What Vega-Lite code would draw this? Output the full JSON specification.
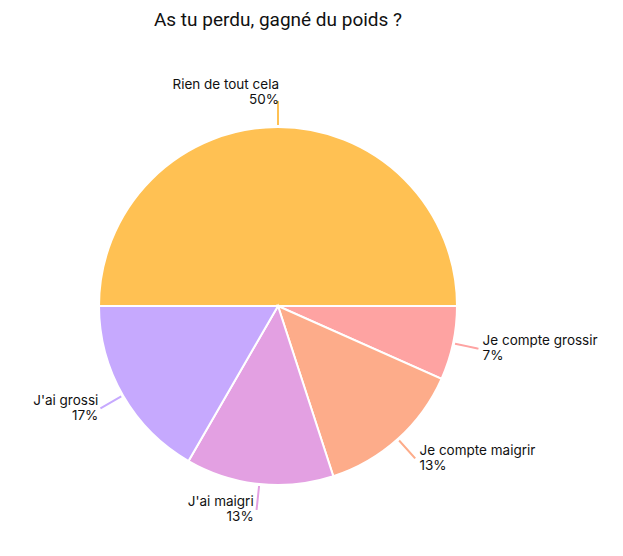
{
  "$schema": "https://vega.github.io/schema/vega-lite/v6.json",
  "width": 556,
  "height": 532,
  "autosize": {"type": "none"},
  "padding": {"top": 40, "left": 0, "right": 67, "bottom": 0},
  "background": "#ffffff",
  "title": {
    "text": "As tu perdu, gagné du poids ?",
    "font": "Roboto",
    "fontSize": 19,
    "fontWeight": "normal",
    "color": "#111111",
    "anchor": "middle",
    "offset": 10
  },
  "data": {
    "values": [
      {"reponse": "Rien de tout cela", "n": 15},
      {"reponse": "Je compte grossir", "n": 2},
      {"reponse": "Je compte maigrir", "n": 4},
      {"reponse": "J'ai maigri", "n": 4},
      {"reponse": "J'ai grossi", "n": 5}
    ]
  },
  "transform": [
    {"joinaggregate": [{"op": "sum", "field": "n", "as": "total"}]},
    {"window": [{"op": "sum", "field": "n", "as": "cum"}], "frame": [null, 0]},
    {"calculate": "-PI/2 + 2*PI*(datum.cum - datum.n)/datum.total", "as": "a0"},
    {"calculate": "-PI/2 + 2*PI*datum.cum/datum.total", "as": "a1"},
    {"calculate": "(datum.a0 + datum.a1)/2", "as": "mid"},
    {"calculate": "datum.mid + 0.0001", "as": "mid2"},
    {"calculate": "[datum.reponse, format(datum.n/datum.total, '.0%')]", "as": "label"}
  ],
  "encoding": {
    "color": {
      "field": "reponse",
      "type": "nominal",
      "scale": {
        "domain": ["Rien de tout cela", "Je compte grossir", "Je compte maigrir", "J'ai maigri", "J'ai grossi"],
        "range": ["#FFC153", "#FEA3A2", "#FDAC8A", "#E3A0E2", "#C6A9FE"]
      },
      "legend": null
    }
  },
  "layer": [
    {
      "mark": {"type": "arc", "outerRadius": 179, "stroke": "#ffffff", "strokeWidth": 2},
      "encoding": {
        "theta": {"field": "a0", "type": "quantitative", "scale": null},
        "theta2": {"field": "a1"}
      }
    },
    {
      "mark": {"type": "arc", "radius": 204, "radius2": 182, "filled": false, "strokeWidth": 2},
      "encoding": {
        "theta": {"field": "mid", "type": "quantitative", "scale": null},
        "theta2": {"field": "mid2"},
        "stroke": {
          "field": "reponse",
          "type": "nominal",
          "scale": {
            "domain": ["Rien de tout cela", "Je compte grossir", "Je compte maigrir", "J'ai maigri", "J'ai grossi"],
            "range": ["#FFC153", "#FEA3A2", "#FDAC8A", "#E3A0E2", "#C6A9FE"]
          },
          "legend": null
        }
      }
    },
    {
      "mark": {
        "type": "text",
        "radius": 204,
        "font": "Inter",
        "fontSize": 13.5,
        "lineHeight": 15,
        "color": "#111111",
        "align": {"expr": "sin(datum.mid) > 0.05 ? 'left' : 'right'"},
        "baseline": "middle",
        "dx": {"expr": "sin(datum.mid) > 0.05 ? 5 : (cos(datum.mid) > 0.9 ? 1 : -3)"},
        "dy": {"expr": "cos(datum.mid) > 0.9 ? -17 : -7"}
      },
      "encoding": {
        "theta": {"field": "mid", "type": "quantitative", "scale": null},
        "text": {"field": "label"},
        "color": {"value": "#111111"}
      }
    }
  ]
}
